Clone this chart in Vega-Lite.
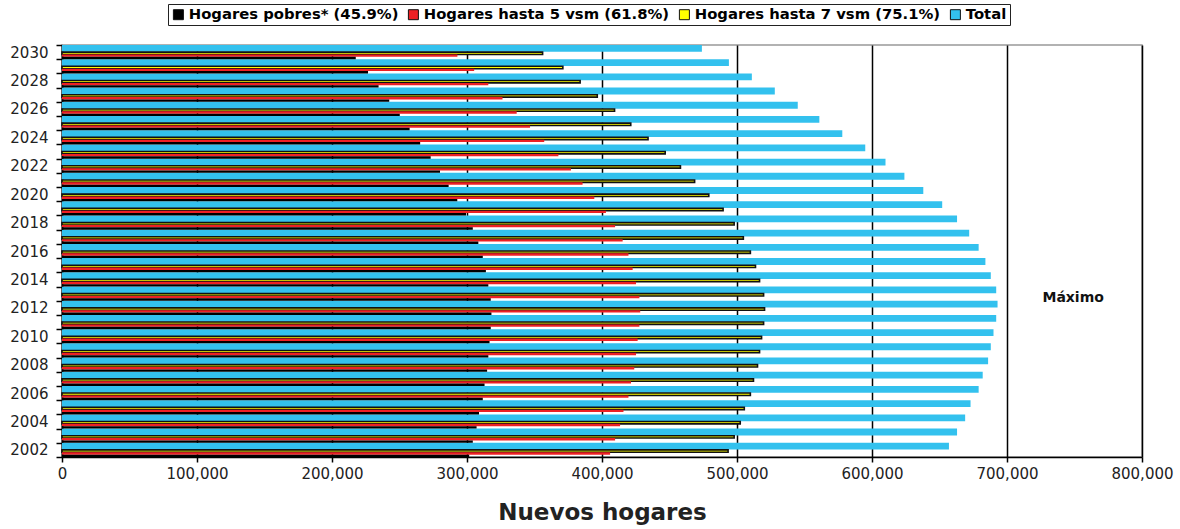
{
  "$schema": "https://vega.github.io/schema/vega-lite/v6.json",
  "width": 1080,
  "height": 412,
  "autosize": {"type": "none"},
  "padding": {"left": 62, "top": 45, "right": 38, "bottom": 72},
  "background": "white",
  "config": {
    "font": "DejaVu Sans",
    "view": {"stroke": "#999", "strokeWidth": 1.5},
    "axis": {"labelFont": "DejaVu Sans", "labelColor": "#222", "domainColor": "black", "tickColor": "black"}
  },
  "datasets": {
    "hogares": [
      {"year": 2002, "pobres": 301600, "vsm5": 406000, "vsm7": 493400, "total": 657000},
      {"year": 2003, "pobres": 304300, "vsm5": 409700, "vsm7": 497900, "total": 663000},
      {"year": 2004, "pobres": 307100, "vsm5": 413400, "vsm7": 502400, "total": 669000},
      {"year": 2005, "pobres": 308900, "vsm5": 415900, "vsm7": 505400, "total": 673000},
      {"year": 2006, "pobres": 311700, "vsm5": 419600, "vsm7": 509900, "total": 679000},
      {"year": 2007, "pobres": 313000, "vsm5": 421500, "vsm7": 512200, "total": 682000},
      {"year": 2008, "pobres": 314900, "vsm5": 423900, "vsm7": 515200, "total": 686000},
      {"year": 2009, "pobres": 315800, "vsm5": 425200, "vsm7": 516700, "total": 688000},
      {"year": 2010, "pobres": 316700, "vsm5": 426400, "vsm7": 518200, "total": 690000},
      {"year": 2011, "pobres": 317600, "vsm5": 427700, "vsm7": 519700, "total": 692000},
      {"year": 2012, "pobres": 318100, "vsm5": 428300, "vsm7": 520400, "total": 693000},
      {"year": 2013, "pobres": 317600, "vsm5": 427700, "vsm7": 519700, "total": 692000},
      {"year": 2014, "pobres": 315800, "vsm5": 425200, "vsm7": 516700, "total": 688000},
      {"year": 2015, "pobres": 314000, "vsm5": 422700, "vsm7": 513700, "total": 684000},
      {"year": 2016, "pobres": 311700, "vsm5": 419600, "vsm7": 509900, "total": 679000},
      {"year": 2017, "pobres": 308400, "vsm5": 415300, "vsm7": 504700, "total": 672000},
      {"year": 2018, "pobres": 304300, "vsm5": 409700, "vsm7": 497900, "total": 663000},
      {"year": 2019, "pobres": 299300, "vsm5": 402900, "vsm7": 489700, "total": 652000},
      {"year": 2020, "pobres": 292800, "vsm5": 394300, "vsm7": 479100, "total": 638000},
      {"year": 2021, "pobres": 286400, "vsm5": 385600, "vsm7": 468600, "total": 624000},
      {"year": 2022, "pobres": 280000, "vsm5": 377000, "vsm7": 458100, "total": 610000},
      {"year": 2023, "pobres": 273100, "vsm5": 367700, "vsm7": 446800, "total": 595000},
      {"year": 2024, "pobres": 265300, "vsm5": 357200, "vsm7": 434100, "total": 578000},
      {"year": 2025, "pobres": 257500, "vsm5": 346700, "vsm7": 421300, "total": 561000},
      {"year": 2026, "pobres": 250200, "vsm5": 336800, "vsm7": 409300, "total": 545000},
      {"year": 2027, "pobres": 242400, "vsm5": 326300, "vsm7": 396500, "total": 528000},
      {"year": 2028, "pobres": 234500, "vsm5": 315800, "vsm7": 383800, "total": 511000},
      {"year": 2029, "pobres": 226700, "vsm5": 305300, "vsm7": 371000, "total": 494000},
      {"year": 2030, "pobres": 217600, "vsm5": 292900, "vsm7": 356000, "total": 474000}
    ]
  },
  "encoding": {
    "y": {
      "field": "year",
      "type": "ordinal",
      "sort": "descending",
      "scale": {"paddingInner": 0, "paddingOuter": 0},
      "axis": {
        "title": null,
        "labelExpr": "datum.value % 2 == 0 ? datum.label : ''",
        "labelFontSize": 15,
        "labelPadding": 8,
        "tickBand": "extent",
        "tickSize": 6,
        "tickWidth": 1.5,
        "domainWidth": 1.5,
        "grid": false
      }
    },
    "x": {
      "field": "value",
      "type": "quantitative",
      "scale": {"domain": [0, 800000], "nice": false},
      "axis": {
        "title": "Nuevos hogares",
        "titleFontSize": 23,
        "titleFontWeight": "bold",
        "titleColor": "#222",
        "titlePadding": 20,
        "values": [0, 100000, 200000, 300000, 400000, 500000, 600000, 700000, 800000],
        "format": ",d",
        "labelFontSize": 15,
        "labelPadding": 4,
        "labelFlush": false,
        "tickSize": 5,
        "tickWidth": 1.5,
        "domainWidth": 1.5,
        "grid": true,
        "gridColor": "black",
        "gridWidth": 1.5,
        "gridOpacity": 1
      }
    }
  },
  "layer": [
    {
      "data": {"name": "hogares"},
      "transform": [{"fold": ["total"], "as": ["series", "value"]}],
      "mark": {"type": "bar"},
      "encoding": {
        "yOffset": {"field": "series", "scale": {"domain": ["total", "pad"], "paddingInner": 0.08, "paddingOuter": 0}},
        "color": {
          "field": "series",
          "scale": {"domain": ["pobres", "vsm5", "vsm7", "total"], "range": ["#000000", "#ee2024", "#ffff00", "#33c1ee"]},
          "legend": {
            "orient": "none",
            "legendX": 106,
            "legendY": -41,
            "direction": "horizontal",
            "columns": 4,
            "title": null,
            "strokeColor": "#222",
            "fillColor": "white",
            "padding": 3,
            "columnPadding": 7,
            "labelFont": "DejaVu Sans",
            "labelFontSize": 14.8,
            "labelFontWeight": "bold",
            "labelColor": "black",
            "labelOffset": 3,
            "labelLimit": 0,
            "symbolType": "square",
            "symbolSize": 100,
            "symbolStrokeColor": "black",
            "symbolStrokeWidth": 1,
            "labelExpr": "{'pobres': 'Hogares pobres* (45.9%)', 'vsm5': 'Hogares hasta 5 vsm (61.8%)', 'vsm7': 'Hogares hasta 7 vsm (75.1%)', 'total': 'Total'}[datum.value]"
          }
        }
      }
    },
    {
      "data": {"name": "hogares"},
      "transform": [{"fold": ["vsm7", "vsm5", "pobres"], "as": ["series", "value"]}],
      "mark": {"type": "bar", "stroke": "#111"},
      "encoding": {
        "yOffset": {"field": "series", "scale": {"domain": ["a", "b", "c", "vsm7", "vsm5", "pobres"], "paddingInner": 0, "paddingOuter": 0}},
        "strokeWidth": {"condition": {"test": "datum.series == 'vsm7'", "value": 1.6}, "value": 0},
        "color": {
          "field": "series",
          "scale": {"domain": ["pobres", "vsm5", "vsm7", "total"], "range": ["#000000", "#ee2024", "#ffff00", "#33c1ee"]}
        }
      }
    },
    {
      "data": {"values": [{"year": 2012, "value": 749000, "label": "Máximo"}]},
      "mark": {"type": "text", "font": "DejaVu Sans", "fontSize": 14, "fontWeight": "bold", "color": "#111", "baseline": "middle", "dy": -10},
      "encoding": {"text": {"field": "label"}}
    }
  ],
  "resolve": {"scale": {"yOffset": "independent"}}
}
